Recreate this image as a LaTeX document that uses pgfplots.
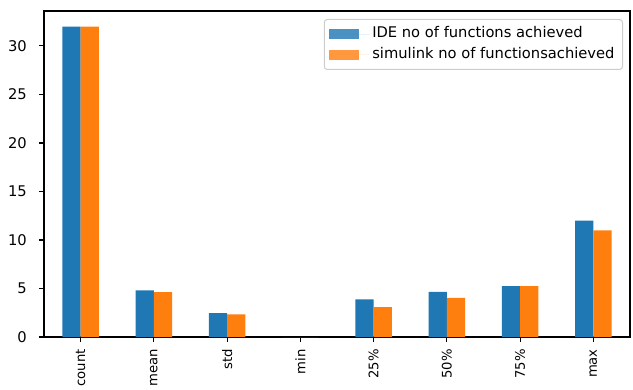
\documentclass[border=0pt]{standalone}
\usepackage{fontspec}
\setmainfont{DejaVu Sans}
\usepackage{pgfplots}
\pgfplotsset{compat=1.18}
\definecolor{tabblue}{HTML}{1F77B4}
\definecolor{taborange}{HTML}{FF7F0E}
\definecolor{legframe}{HTML}{CCCCCC}
\begin{document}
\fontsize{14.7bp}{17bp}\selectfont
\begin{tikzpicture}
\begin{axis}[
  scale only axis, width=586bp, height=326bp,
  ybar, bar width=0.25,
  xmin=-0.5, xmax=7.5, ymin=0, ymax=33.6,
  xtick={0,...,7},
  xticklabels={count,mean,std,min,25\%,50\%,75\%,max},
  xticklabel style={yshift=-7bp, rotate=90, anchor=east, inner sep=0pt,
    font=\fontsize{13.2bp}{16bp}\selectfont},
  ytick={0,5,...,30},
  yticklabel style={inner sep=0pt, xshift=-12bp},
  tick align=outside, major tick length=5bp,
  tick style={black, line width=1.1bp},
  xtick pos=bottom, ytick pos=left,
  axis line style={black, line width=1.1bp},
  /pgf/number format/assume math mode=true,
  legend cell align=left,
  legend image code/.code={\path (0bp,0bp) -- (40bp,0bp);
    \fill[#1, sharp corners] (0bp,-5bp) rectangle (30bp,5bp);},
  legend style={at={(1,1)}, anchor=north east, xshift=-7bp, yshift=-8bp,
    draw=legframe, line width=1bp, rounded corners=3bp, fill=white, fill opacity=0.8, text opacity=1,
    inner xsep=5bp, inner ysep=6bp, row sep=3bp, column sep=0pt,
    nodes={inner xsep=3bp, inner ysep=1.5bp, text height=11bp, text depth=3.5bp}},
]
\addplot[fill=tabblue, draw=none, bar shift=-0.125] coordinates {
  (0,32) (1,4.81) (2,2.47) (3,0) (4,3.88) (5,4.64) (6,5.25) (7,12)};
\addplot[fill=taborange, draw=none, bar shift=0.125] coordinates {
  (0,32) (1,4.63) (2,2.34) (3,0) (4,3.09) (5,4.02) (6,5.25) (7,11)};
\legend{IDE no of functions achieved, simulink no of functionsachieved}
\end{axis}
\pgfresetboundingbox
\path ([xshift=-44bp,yshift=-53bp]current axis.south west) rectangle ([xshift=3bp,yshift=11bp]current axis.north east);
\end{tikzpicture}
\end{document}
